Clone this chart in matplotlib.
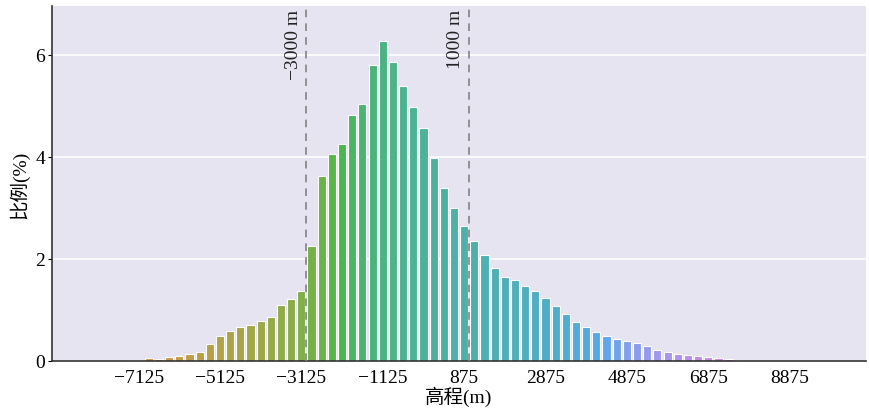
import numpy as np
import matplotlib
matplotlib.use("Agg")
from matplotlib import pyplot as plt
import seaborn as sns

# elevation bins (centres, m), 250 m wide
bin_centers = list(range(-9125, 10626, 250))

# share of area per bin (%)
share = [0, 0, 0, 0, 0, 0, 0,
         0.01, 0.02, 0.05, 0.03, 0.08, 0.09, 0.13, 0.17, 0.32, 0.49,
         0.59, 0.66, 0.70, 0.78, 0.86, 1.10, 1.22, 1.36,
         2.25, 3.63, 4.05, 4.25, 4.82, 5.03, 5.80, 6.27, 5.85, 5.38,
         4.97, 4.57, 3.97, 3.39, 3.00, 2.65, 2.34, 2.08, 1.82, 1.65,
         1.58, 1.46, 1.36, 1.24, 1.08, 0.91, 0.77, 0.67, 0.57, 0.49,
         0.42, 0.38, 0.34, 0.29, 0.22, 0.17, 0.14, 0.12, 0.10, 0.07,
         0.05, 0.03, 0.015, 0.005,
         0, 0, 0, 0, 0, 0, 0, 0, 0, 0, 0]

tick_values = [-7125, -5125, -3125, -1125, 875, 2875, 4875, 6875, 8875]
cut_lines = [-3000, 1000]
cut_labels = ["\u22123000 m", "1000 m"]

plt.rcParams["font.family"] = ["Liberation Serif", "Noto Sans CJK SC"]
plt.rcParams["axes.unicode_minus"] = True

colors = sns.husl_palette(len(bin_centers), s=0.8, l=0.67)

fig = plt.figure(figsize=(8.69, 4.14), dpi=100)
ax = fig.add_axes([0.06, 0.126, 0.9365, 0.857])
ax.set_facecolor("#E5E4F0")

ax.bar(bin_centers, share, width=200, color=colors, edgecolor="white",
       linewidth=0.8, zorder=2)

for xv, lab in zip(cut_lines, cut_labels):
    ax.axvline(xv, color="#7a7a7a", linestyle=(0, (5, 4)), linewidth=1.1, zorder=3)
    ax.text(xv - 120, 6.9, lab, rotation=90, ha="right", va="top",
            fontsize=14, color="#222222")

ax.set_xlim(-9250, 10750)
ax.set_ylim(0, 6.95)
ax.set_yticks([0, 2, 4, 6])
ax.set_xticks(tick_values)
ax.set_xticklabels([f"{v:d}".replace("-", "\u2212") for v in tick_values])
ax.yaxis.grid(True, color="white", linewidth=1.2, zorder=0)
ax.set_axisbelow(True)

ax.tick_params(axis="x", length=0, labelsize=14, pad=6)
ax.tick_params(axis="y", length=3, labelsize=14, pad=2)
for side in ["top", "right"]:
    ax.spines[side].set_visible(False)
for side in ["left", "bottom"]:
    ax.spines[side].set_color("#333333")
    ax.spines[side].set_linewidth(1.2)

ax.set_xlabel("高程(m)", fontsize=14, labelpad=0)
ax.set_ylabel("比例(%)", fontsize=14, labelpad=4)

fig.savefig("out.png", dpi=100)
